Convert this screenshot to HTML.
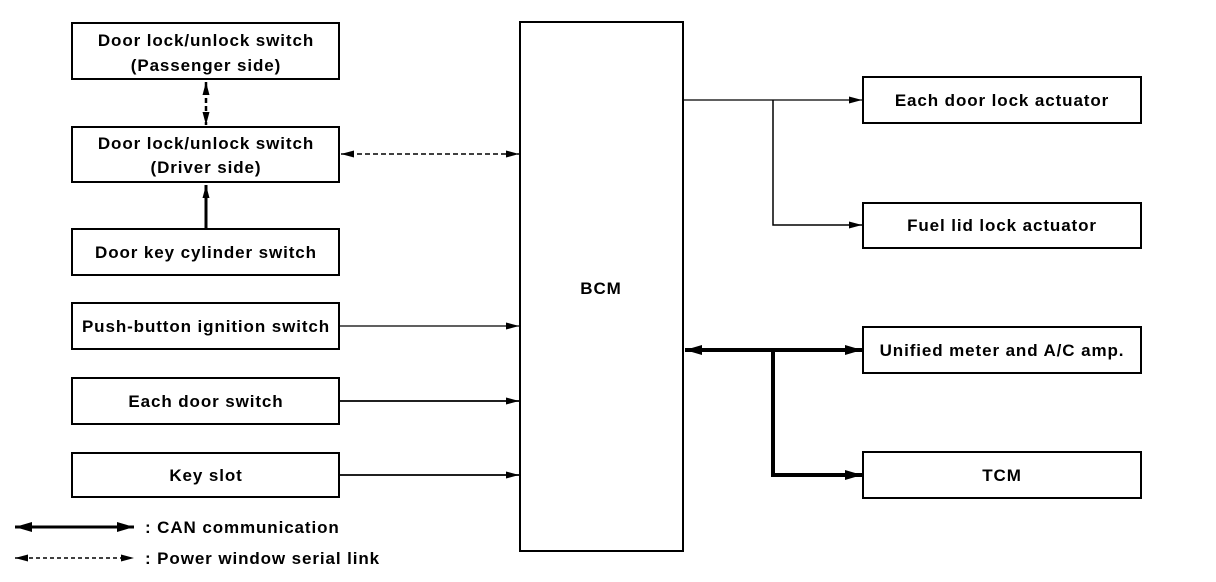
<!DOCTYPE html>
<html><head><meta charset="utf-8"><style>
html,body{margin:0;padding:0;background:#fff;}
svg{display:block;}
text{font-family:"Liberation Sans",Arial,sans-serif;font-size:17px;font-weight:bold;letter-spacing:0.9px;fill:#000;text-anchor:middle;}
</style></head><body>
<svg width="1216" height="582" viewBox="0 0 1216 582" xmlns="http://www.w3.org/2000/svg">
<defs>
<marker id="a" markerWidth="14" markerHeight="10" refX="13" refY="5" orient="auto-start-reverse" markerUnits="userSpaceOnUse"><path d="M0,1.5 L13,5 L0,8.5 Z" fill="#000"/></marker>
<marker id="b" markerWidth="18" markerHeight="12" refX="17" refY="6" orient="auto-start-reverse" markerUnits="userSpaceOnUse"><path d="M0,1 L17,6 L0,11 Z" fill="#000"/></marker>
</defs>
<g fill="none" stroke="#000" stroke-width="2">
<rect x="72" y="23" width="267" height="56"/>
<rect x="72" y="127" width="267" height="55"/>
<rect x="72" y="229" width="267" height="46"/>
<rect x="72" y="303" width="267" height="46"/>
<rect x="72" y="378" width="267" height="46"/>
<rect x="72" y="453" width="267" height="44"/>
<rect x="520" y="22" width="163" height="529"/>
<rect x="863" y="77" width="278" height="46"/>
<rect x="863" y="203" width="278" height="45"/>
<rect x="863" y="327" width="278" height="46"/>
<rect x="863" y="452" width="278" height="46"/>
</g>
<g fill="none" stroke="#000">
<line x1="206" y1="82" x2="206" y2="125" stroke-width="2.5" stroke-dasharray="5,3" marker-start="url(#a)" marker-end="url(#a)"/>
<line x1="206" y1="228" x2="206" y2="185" stroke-width="3" marker-end="url(#a)"/>
<line x1="341" y1="154" x2="519" y2="154" stroke-width="1.6" stroke-dasharray="5,3" marker-start="url(#a)" marker-end="url(#a)"/>
<line x1="340" y1="326" x2="519" y2="326" stroke-width="1.3" marker-end="url(#a)"/>
<line x1="340" y1="401" x2="519" y2="401" stroke-width="1.8" marker-end="url(#a)"/>
<line x1="340" y1="475" x2="519" y2="475" stroke-width="1.8" marker-end="url(#a)"/>
<line x1="684" y1="100" x2="862" y2="100" stroke-width="1.3" marker-end="url(#a)"/>
<polyline points="773,100 773,225 862,225" stroke-width="1.5" marker-end="url(#a)"/>
<line x1="685" y1="350" x2="862" y2="350" stroke-width="4" marker-start="url(#b)" marker-end="url(#b)"/>
<polyline points="773,350 773,475 862,475" stroke-width="4" marker-end="url(#b)"/>
<line x1="15" y1="527" x2="134" y2="527" stroke-width="3" marker-start="url(#b)" marker-end="url(#b)"/>
<line x1="15" y1="558" x2="134" y2="558" stroke-width="1.5" stroke-dasharray="4,3" marker-start="url(#a)" marker-end="url(#a)"/>
</g>
<text x="206" y="46">Door lock/unlock switch</text>
<text x="206" y="71">(Passenger side)</text>
<text x="206" y="149">Door lock/unlock switch</text>
<text x="206" y="173">(Driver side)</text>
<text x="206" y="258">Door key cylinder switch</text>
<text x="206" y="332">Push-button ignition switch</text>
<text x="206" y="407">Each door switch</text>
<text x="206" y="481">Key slot</text>
<text x="601" y="294">BCM</text>
<text x="1002" y="106">Each door lock actuator</text>
<text x="1002" y="231">Fuel lid lock actuator</text>
<text x="1002" y="356">Unified meter and A/C amp.</text>
<text x="1002" y="481">TCM</text>
<text x="145" y="533" style="text-anchor:start">: CAN communication</text>
<text x="145" y="564" style="text-anchor:start">: Power window serial link</text>
</svg>
</body></html>
